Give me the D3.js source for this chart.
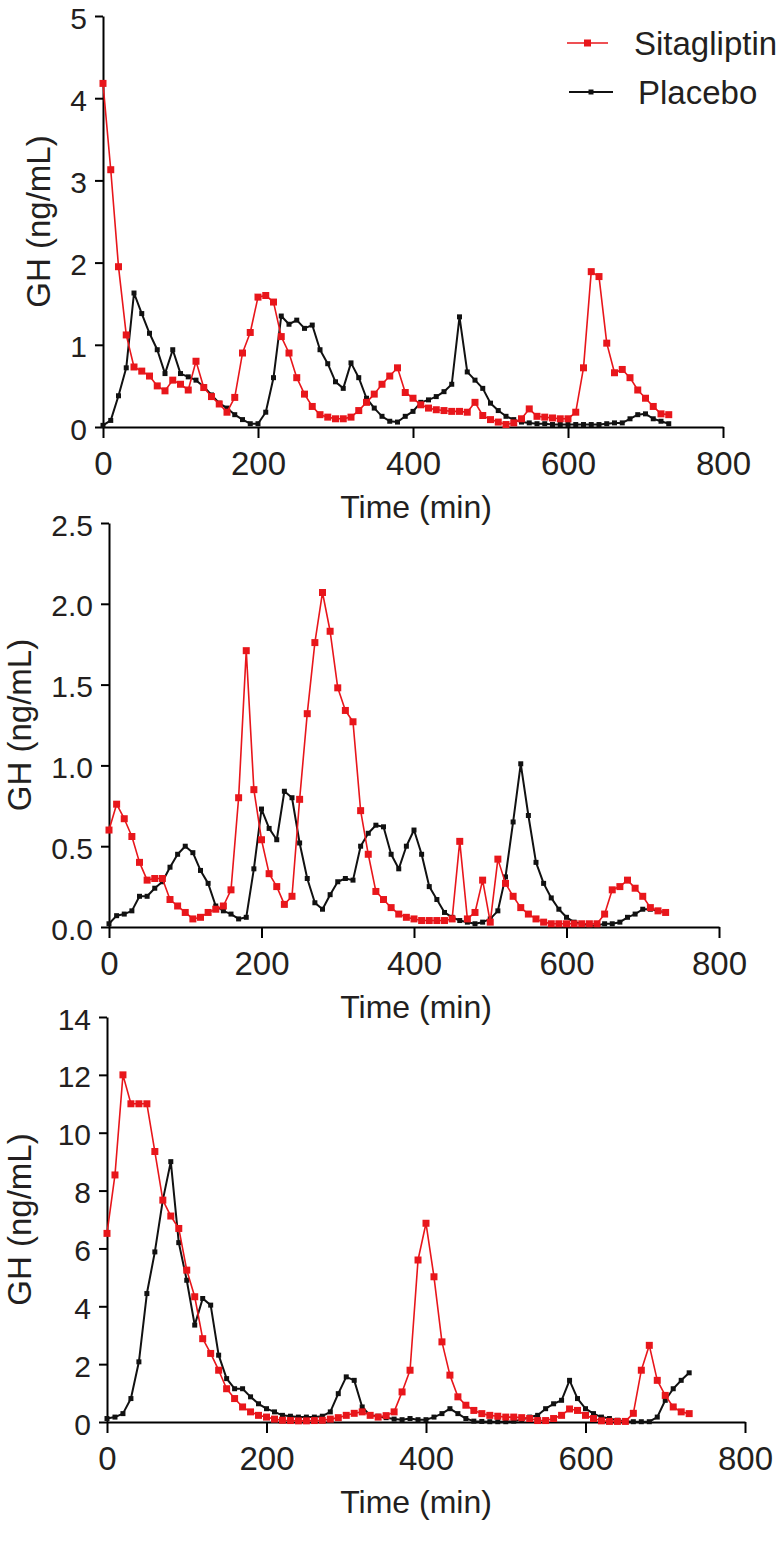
<!DOCTYPE html>
<html>
<head>
<meta charset="utf-8">
<script src="https://cdn.jsdelivr.net/npm/d3@7"></script>
<style>
  html, body { margin: 0; padding: 0; background: #fff; }
  svg { display: block; }
  text { font-family: Arial, "Liberation Sans", Helvetica, sans-serif; fill: #231f20; }
</style>
</head>
<body>
<svg id="chart" width="780" height="1549"></svg>
<script>
// ---------------- DATA ----------------
const seriesNames = ["Sitagliptin", "Placebo"];
const timeMin = d3.range(0, 740, 10); // sampling times 0..730 min, every 10 min

const xTicks = [0, 200, 400, 600, 800];
const yTicks1 = [0, 1, 2, 3, 4, 5];
const yTicks2 = [0, 0.5, 1.0, 1.5, 2.0, 2.5];
const yTicks3 = [0, 2, 4, 6, 8, 10, 12, 14];

const xTitle = "Time (min)";
const yTitle = "GH (ng/mL)";

// Panel 1
const sita1 = [4.18,3.13,1.95,1.12,0.73,0.68,0.62,0.50,0.44,0.57,
  0.52,0.45,0.80,0.48,0.37,0.28,0.18,0.36,0.90,1.15,
  1.58,1.60,1.52,1.10,0.90,0.60,0.40,0.25,0.15,0.12,
  0.10,0.10,0.12,0.20,0.30,0.40,0.52,0.62,0.72,0.42,
  0.35,0.27,0.23,0.21,0.20,0.19,0.19,0.18,0.30,0.14,
  0.09,0.06,0.03,0.05,0.10,0.22,0.13,0.12,0.11,0.10,
  0.10,0.18,0.72,1.89,1.83,1.02,0.66,0.70,0.60,0.45,
  0.35,0.25,0.16,0.15];
const plac1 = [0.02,0.08,0.38,0.72,1.63,1.38,1.14,0.94,0.65,0.94,
  0.65,0.61,0.57,0.49,0.39,0.29,0.23,0.15,0.09,0.04,
  0.04,0.18,0.60,1.35,1.25,1.30,1.20,1.24,0.94,0.77,
  0.55,0.47,0.78,0.60,0.35,0.23,0.13,0.07,0.06,0.13,
  0.19,0.30,0.33,0.37,0.43,0.52,1.34,0.67,0.57,0.47,
  0.29,0.20,0.13,0.09,0.06,0.05,0.04,0.04,0.03,0.03,
  0.03,0.03,0.03,0.03,0.03,0.04,0.05,0.05,0.10,0.15,
  0.16,0.10,0.07,0.04];

// Panel 2
const sita2 = [0.60,0.76,0.67,0.56,0.40,0.29,0.30,0.30,0.17,0.13,
  0.09,0.05,0.06,0.09,0.11,0.13,0.23,0.80,1.71,0.85,
  0.54,0.33,0.25,0.14,0.19,0.79,1.32,1.76,2.07,1.83,
  1.48,1.34,1.27,0.72,0.45,0.22,0.17,0.12,0.08,0.06,
  0.05,0.04,0.04,0.04,0.04,0.05,0.53,0.05,0.09,0.29,
  0.03,0.42,0.27,0.19,0.12,0.08,0.05,0.03,0.02,0.02,
  0.02,0.02,0.02,0.02,0.02,0.08,0.23,0.25,0.29,0.24,
  0.19,0.12,0.10,0.09];
const plac2 = [0.02,0.07,0.08,0.10,0.19,0.19,0.24,0.28,0.37,0.45,
  0.50,0.46,0.35,0.27,0.13,0.10,0.08,0.05,0.06,0.36,
  0.73,0.61,0.54,0.84,0.80,0.52,0.30,0.15,0.11,0.20,
  0.28,0.30,0.29,0.50,0.58,0.63,0.62,0.45,0.36,0.50,
  0.60,0.45,0.25,0.17,0.09,0.06,0.04,0.03,0.02,0.03,
  0.05,0.10,0.31,0.65,1.01,0.69,0.40,0.27,0.18,0.11,
  0.06,0.03,0.02,0.01,0.01,0.02,0.02,0.03,0.06,0.08,
  0.11,0.11,0.10,0.09];

// Panel 3
const sita3 = [6.52,8.54,12.0,11.0,11.0,11.0,9.35,7.67,7.12,6.69,
  5.25,4.33,2.88,2.37,1.79,1.15,0.81,0.52,0.35,0.23,
  0.17,0.10,0.06,0.05,0.04,0.04,0.05,0.06,0.10,0.15,
  0.23,0.30,0.35,0.23,0.17,0.22,0.35,1.04,1.79,5.60,
  6.87,5.02,2.77,1.62,0.87,0.58,0.40,0.29,0.23,0.20,
  0.17,0.17,0.15,0.12,0.05,0.05,0.12,0.23,0.45,0.40,
  0.23,0.12,0.04,0.02,0.02,0.02,0.30,1.79,2.65,1.44,
  0.92,0.52,0.35,0.29];
const plac3 = [0.12,0.17,0.29,0.81,2.08,4.44,5.88,7.67,9.00,6.20,
  4.90,3.35,4.27,4.04,2.31,1.50,1.15,1.15,0.87,0.63,
  0.46,0.35,0.23,0.20,0.17,0.17,0.17,0.20,0.35,0.98,
  1.56,1.44,0.52,0.23,0.20,0.15,0.10,0.08,0.12,0.08,
  0.08,0.17,0.29,0.46,0.29,0.12,0.03,0.02,0.01,0.01,
  0.01,0.03,0.08,0.17,0.23,0.46,0.63,0.75,1.44,0.81,
  0.46,0.29,0.17,0.12,0.06,0.03,0.01,0.01,0.01,0.17,
  0.75,1.15,1.44,1.70];

// ---------------- LAYOUT / STYLE ----------------
const RED = "#e8161b";
const BLACK = "#111111";

const panels = [
  { sita: sita1, plac: plac1, yMax: 5,   yTicks: yTicks1, fmt: d3.format("d"),
    left: 103, right: 723, top: 16,   bottom: 427,  yLabelX: 50 },
  { sita: sita2, plac: plac2, yMax: 2.5, yTicks: yTicks2, fmt: d3.format(".1f"),
    left: 109, right: 719, top: 523,  bottom: 927,  yLabelX: 31 },
  { sita: sita3, plac: plac3, yMax: 14,  yTicks: yTicks3, fmt: d3.format("d"),
    left: 107, right: 745, top: 1017, bottom: 1422, yLabelX: 31 }
];

const svg = d3.select("#chart");

panels.forEach(p => {
  const x = d3.scaleLinear().domain([0, 800]).range([p.left, p.right]);
  const y = d3.scaleLinear().domain([0, p.yMax]).range([p.bottom, p.top]);
  const g = svg.append("g");

  // axes
  const yAxis = d3.axisLeft(y).tickValues(p.yTicks).tickFormat(p.fmt)
    .tickSize(8).tickPadding(8).tickSizeOuter(0);
  const gy = g.append("g").attr("transform", `translate(${p.left},0)`).call(yAxis);
  gy.select(".domain").attr("stroke", "#000").attr("stroke-width", 2);
  gy.selectAll(".tick line").attr("stroke", "#000").attr("stroke-width", 2);
  gy.selectAll(".tick text").attr("font-size", 30).attr("dy", "0.4em").attr("fill", "#231f20")
    .style("font-family", "Arial, 'Liberation Sans', sans-serif");

  const xAxis = d3.axisBottom(x).tickValues(xTicks).tickFormat(d3.format("d"))
    .tickSize(11).tickPadding(14).tickSizeOuter(0);
  const gx = g.append("g").attr("transform", `translate(0,${p.bottom})`).call(xAxis);
  gx.select(".domain").attr("stroke", "#000").attr("stroke-width", 2);
  gx.selectAll(".tick line").attr("stroke", "#000").attr("stroke-width", 2);
  gx.selectAll(".tick text").attr("font-size", 33).attr("fill", "#231f20")
    .style("font-family", "Arial, 'Liberation Sans', sans-serif");

  // titles
  g.append("text")
    .attr("x", 416).attr("y", p.bottom + 91)
    .attr("text-anchor", "middle").attr("font-size", 32)
    .text(xTitle);
  g.append("text")
    .attr("transform", `translate(${p.yLabelX},${(p.top + p.bottom) / 2}) rotate(-90)`)
    .attr("text-anchor", "middle").attr("font-size", 33)
    .text(yTitle);

  // series
  const line = d3.line().x((d, i) => x(timeMin[i])).y(d => y(d));
  const series = [
    { vals: p.plac, color: BLACK, width: 2, size: 5 },
    { vals: p.sita, color: RED, width: 1.6, size: 7 }
  ];
  series.forEach(s => {
    g.append("path").datum(s.vals)
      .attr("d", line).attr("fill", "none")
      .attr("stroke", s.color).attr("stroke-width", s.width)
      .attr("stroke-linejoin", "round");
    g.append("g").selectAll("path").data(s.vals).join("path")
      .attr("transform", (d, i) => `translate(${x(timeMin[i])},${y(d)})`)
      .attr("d", d3.symbol().type(d3.symbolSquare).size(s.size * s.size))
      .attr("fill", s.color);
  });
});

// legend
const legend = svg.append("g");
const legendItems = [
  { name: seriesNames[0], color: RED, x1: 567, x2: 608, y: 43, tx: 634, width: 1.6, size: 7 },
  { name: seriesNames[1], color: BLACK, x1: 569, x2: 613, y: 92, tx: 638, width: 2, size: 5 }
];
legendItems.forEach(it => {
  legend.append("line").attr("x1", it.x1).attr("x2", it.x2)
    .attr("y1", it.y).attr("y2", it.y)
    .attr("stroke", it.color).attr("stroke-width", it.width);
  legend.append("path")
    .attr("transform", `translate(${(it.x1 + it.x2) / 2},${it.y})`)
    .attr("d", d3.symbol().type(d3.symbolSquare).size(it.size * it.size))
    .attr("fill", it.color);
  legend.append("text").attr("x", it.tx).attr("y", it.y + 12)
    .attr("font-size", 33).text(it.name);
});
</script>
</body>
</html>
